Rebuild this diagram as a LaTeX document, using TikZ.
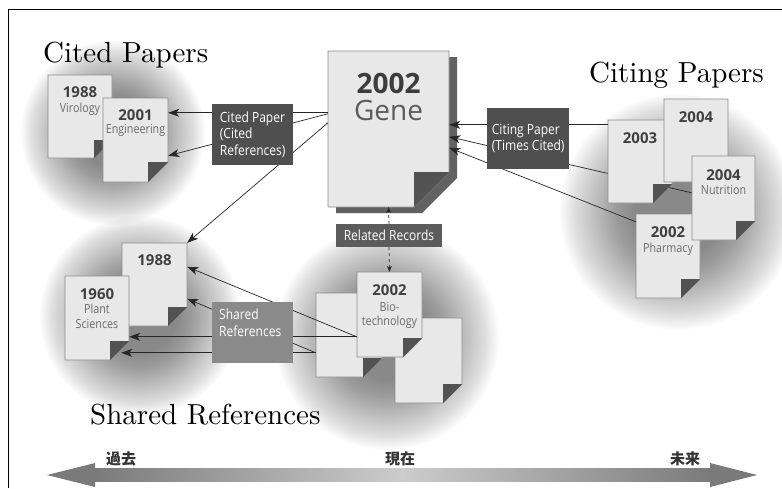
\documentclass[tikz,border=0pt]{standalone}
\usepackage{fontspec}
\newfontfamily\osans{Open Sans}
\newfontfamily\osc[FakeStretch=0.86]{Open Sans}
\newfontfamily\jpfont{Noto Sans CJK JP}
\newfontfamily\lmten{lmroman10-regular.otf}
\usetikzlibrary{arrows.meta,calc}
\pgfdeclarelayer{blobs}
\pgfdeclarelayer{under}
\pgfsetlayers{blobs,under,main}
\tikzset{
 pagefill/.style={fill=black!9, draw=black!45, line width=0.8pt},
 foldfill/.style={fill=black!68},
 yr/.style={font=\osans\bfseries\fontsize{15}{18}\selectfont, text=black!75, anchor=base, inner sep=0},
 subj/.style={font=\osc\fontsize{12.5}{15}\selectfont, text=black!58, anchor=base, inner sep=0},
 darkbox/.style={fill=black!69, text=white, font=\osc\fontsize{14}{16.5}\selectfont, align=left, inner sep=0, anchor=north west},
 conn/.style={draw=black!85, line width=0.7pt, -{Stealth[length=11pt,width=8pt,inset=3pt]}},
 dconn/.style={draw=black!85, line width=0.7pt, dashed, -{Stealth[length=6pt,width=5pt,inset=2pt]}},
 titletext/.style={font=\lmten\fontsize{29}{32}\selectfont, anchor=base west, inner sep=0},
 jp/.style={font=\jpfont\bfseries\fontsize{15}{18}\selectfont, text=black!80, anchor=base, inner sep=0},
 blobring/.style={fill=black, fill opacity=0.015},
}
% name, x1, y1, x2, y2, fold
\newcommand\docpage[6]{%
 \filldraw[pagefill] (#2,#3) -- (#4,#3) -- (#4,{#5-#6}) -- ({#4-#6},#5) -- (#2,#5) -- cycle;
 \fill[foldfill] ({#4-#6},{#5-#6}) -- (#4,{#5-#6}) -- ({#4-#6},#5) -- cycle;
 \node[inner sep=0, minimum width={#4-#2}, minimum height={#5-#3}] (#1) at ({(#2+#4)/2},{(#3+#5)/2}) {};
}
% soft round shadow: centre x, centre y, radius
\newcommand\softblob[3]{%
 \foreach \k in {0,...,39}{\fill[blobring] (#1,#2) circle[radius={#3*(1-0.016*\k)*1pt}];}%
}
\begin{document}
\begin{tikzpicture}[x=1pt,y=-1pt]
\useasboundingbox (0,0) rectangle (782,488);
% soft shadows
\begin{pgfonlayer}{blobs}
 \softblob{113}{133}{92}
 \softblob{678}{212}{118}
 \softblob{387}{338}{112}
 \softblob{140}{316}{100}
\end{pgfonlayer}
% frame
\draw[line width=1.5pt] (8.5,488) -- (8.5,9.5) -- (782,9.5);
% titles
\node[titletext] (tcited) at (43,62) {Cited Papers};
\node[titletext] (tciting) at (589,82) {Citing Papers};
\node[titletext] (tshared) at (90,424) {Shared References};
% main paper
\begin{pgfonlayer}{under}
 \fill[black!62] (336,57) -- (457,57) -- (457,178) -- (422,213) -- (336,213) -- cycle;
 \docpage{gene}{328}{51}{449}{207}{35}
 \node[font=\osans\bfseries\fontsize{28}{30}\selectfont, text=black!76, anchor=base, inner sep=0] (tg2002) at (388.5,93) {2002};
 \node[font=\osans\fontsize{28}{30}\selectfont, text=black!64, anchor=base, inner sep=0] (tgene) at (388.5,120) {Gene};
\end{pgfonlayer}
% cited papers
\docpage{pc1988}{48}{75}{112}{158}{18}
\node[yr] (yc1988) at (80,97) {1988};
\node[subj] (sc1988) at (80,112) {Virology};
\docpage{pc2001}{103}{98}{168}{182}{20}
\node[yr] (yc2001) at (135.5,120) {2001};
\node[subj] (sc2001) at (135.5,133) {Engineering};
% citing papers
\docpage{p2003}{608}{120}{672}{203}{19}
\node[yr] (y2003) at (640,143) {2003};
\docpage{p2004a}{664}{99}{728}{182}{19}
\node[yr] (y2004a) at (696,122) {2004};
\docpage{pphar}{636}{214}{700}{298}{19}
\node[yr] (yphar) at (668,237) {2002};
\node[subj] (sphar) at (668,252) {Pharmacy};
\docpage{pnut}{692}{156}{755}{240}{19}
\node[yr] (ynut) at (723.5,180) {2004};
\node[subj] (snut) at (723.5,194) {Nutrition};
% shared references
\docpage{ps1988}{122}{243}{187}{326}{19}
\node[yr] (ys1988) at (154.5,265) {1988};
\docpage{p1960}{65}{276}{129}{360}{19}
\node[yr] (y1960) at (97,299) {1960};
\node[subj] (s1960a) at (97,313) {Plant};
\node[subj] (s1960b) at (97,328) {Sciences};
% biotech cluster
\docpage{pbl}{316}{293}{382}{377}{19}
\docpage{pbr}{395}{318}{462}{403}{19}
\docpage{pbio}{357}{272}{422}{357}{19}
\node[yr] (ybio) at (389.5,295) {2002};
\node[subj] (sbio1) at (389.5,311) {Bio-};
\node[subj] (sbio2) at (389.5,325) {technology};
% connector hidden behind the 2003 page
\begin{pgfonlayer}{under}
 \draw[conn] ($(pnut.north west)+(0,37)$) -- ($(gene.north east)+(0,86)$);
\end{pgfonlayer}
% connectors
\draw[conn] ($(gene.north west)+(0,62)$) -- ($(pc2001.north east)+(0,15)$);
\draw[conn] ($(gene.north west)+(0,63)$) -- ($(pc2001.north east)+(0,58)$);
\draw[conn] ($(gene.north west)+(0,72)$) -- (ps1988.north east);
\draw[conn] ($(p2003.north west)+(0,5)$) -- ($(gene.north east)+(0,74)$);
\draw[conn] ($(pphar.north west)+(0,8)$) -- ($(gene.north east)+(0,97)$);
\draw[conn] ($(pbio.north west)+(0,65)$) -- ($(ps1988.north east)+(0,24)$);
\draw[conn] ($(pbio.north west)+(0,65)$) -- ($(p1960.north east)+(0,61)$);
\draw[conn] ($(pbl.north west)+(0,60)$) -- ($(ps1988.north east)+(0,56)$);
\draw[conn] ($(pbl.north west)+(0,60)$) -- ($(p1960.north east)+(-8,77)$);
% label boxes
\node[darkbox, minimum width=81, minimum height=61] (bcited) at (212,104) {Cited Paper\\(Cited\\References)};
\node[darkbox, minimum width=82, minimum height=61] (bciting) at (487,108) {Citing Paper\\(Times Cited)};
\node[darkbox, fill=black!64, align=center, anchor=center, minimum width=106, minimum height=23] (brel) at (389,235.5) {Related Records};
\node[darkbox, fill=black!46, minimum width=81, minimum height=61] (bshared) at (212,302) {};
\node[darkbox, fill=none, anchor=north west] (tsharedbox) at (219,309) {Shared\\References};
\draw[dconn] (brel.north) -- (gene.south);
\draw[dconn] (brel.south) -- (pbio.north);
% timeline
\shade[left color=black!52, right color=black!52, middle color=black!20] (94,468.5) rectangle (711,481.5);
\fill[black!52] (95,463) -- (47,475) -- (95,487) -- cycle;
\fill[black!52] (710,463) -- (757,475) -- (710,487) -- cycle;
\node[jp] (past) at (121,464) {過去};
\node[jp] (now) at (400,464) {現在};
\node[jp] (future) at (685,464) {未来};
\end{tikzpicture}
\end{document}
